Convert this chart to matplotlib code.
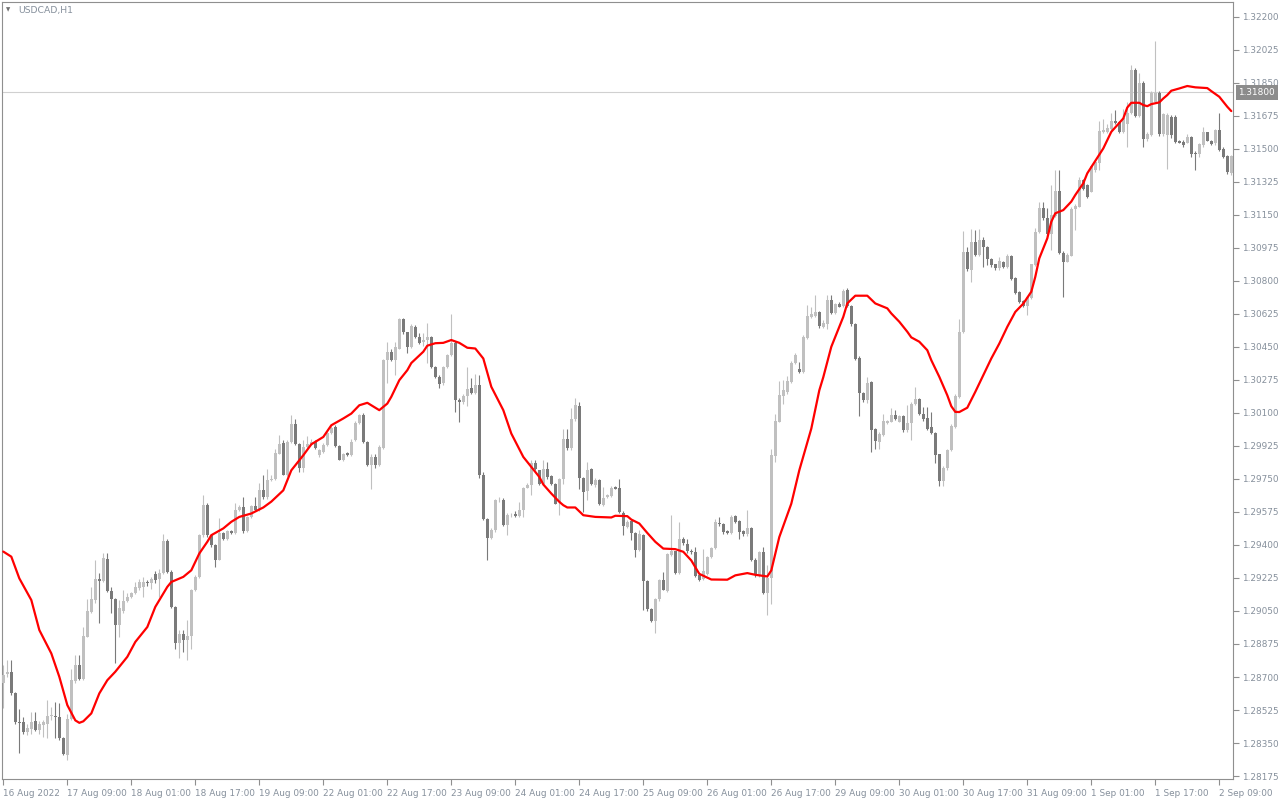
import numpy as np
import matplotlib
matplotlib.use("Agg")
import matplotlib.pyplot as plt

symbol = "USDCAD,H1"
bid = 1.31800

# hourly bars, index 0 = first bar on screen
opens = [
    1.28667, 1.28714, 1.28724, 1.28613, 1.28462, 1.28460, 1.28409, 1.28423, 1.28466, 1.28418,
    1.28444, 1.28453, 1.28492, 1.28494, 1.28490, 1.28374, 1.28285, 1.28475, 1.28680, 1.28763,
    1.28689, 1.28914, 1.29047, 1.29110, 1.29218, 1.29211, 1.29326, 1.29158, 1.29114, 1.28975,
    1.29052, 1.29105, 1.29124, 1.29144, 1.29172, 1.29175, 1.29204, 1.29196, 1.29245, 1.29219,
    1.29252, 1.29422, 1.29257, 1.29072, 1.28880, 1.28926, 1.28895, 1.28916, 1.29160, 1.29231,
    1.29452, 1.29611, 1.29452, 1.29399, 1.29323, 1.29461, 1.29431, 1.29473, 1.29464, 1.29588,
    1.29603, 1.29473, 1.29549, 1.29606, 1.29585, 1.29691, 1.29652, 1.29744, 1.29750, 1.29885,
    1.29941, 1.29773, 1.29947, 1.30044, 1.29933, 1.29809, 1.29921, 1.29938, 1.29947, 1.29876,
    1.29894, 1.29929, 1.29995, 1.30026, 1.29926, 1.29853, 1.29888, 1.29876, 1.29956, 1.30048,
    1.30088, 1.29947, 1.29823, 1.29867, 1.29823, 1.29915, 1.30380, 1.30425, 1.30380, 1.30442,
    1.30598, 1.30527, 1.30451, 1.30557, 1.30504, 1.30478, 1.30487, 1.30504, 1.30345, 1.30292,
    1.30257, 1.30345, 1.30407, 1.30472, 1.30168, 1.30160, 1.30191, 1.30230, 1.30207, 1.30248,
    1.29770, 1.29540, 1.29437, 1.29478, 1.29637, 1.29641, 1.29508, 1.29557, 1.29566, 1.29554,
    1.29584, 1.29702, 1.29717, 1.29835, 1.29796, 1.29726, 1.29803, 1.29765, 1.29726, 1.29629,
    1.29748, 1.29960, 1.29912, 1.30066, 1.30137, 1.29753, 1.29687, 1.29801, 1.29718, 1.29744,
    1.29611, 1.29656, 1.29660, 1.29707, 1.29703, 1.29572, 1.29496, 1.29526, 1.29464, 1.29372,
    1.29452, 1.29210, 1.29059, 1.28995, 1.29112, 1.29213, 1.29157, 1.29349, 1.29367, 1.29250,
    1.29431, 1.29407, 1.29368, 1.29362, 1.29239, 1.29221, 1.29247, 1.29336, 1.29384, 1.29516,
    1.29509, 1.29472, 1.29465, 1.29552, 1.29525, 1.29472, 1.29456, 1.29490, 1.29322, 1.29235,
    1.29362, 1.29145, 1.29224, 1.29872, 1.30053, 1.30189, 1.30212, 1.30265, 1.30363, 1.30331,
    1.30318, 1.30500, 1.30610, 1.30614, 1.30633, 1.30557, 1.30570, 1.30699, 1.30632, 1.30678,
    1.30667, 1.30752, 1.30667, 1.30570, 1.30394, 1.30207, 1.30168, 1.30262, 1.30014, 1.29947,
    1.29982, 1.30047, 1.30053, 1.30088, 1.30053, 1.30083, 1.30009, 1.30047, 1.30147, 1.30173,
    1.30097, 1.30071, 1.30026, 1.29996, 1.29881, 1.29738, 1.29810, 1.29902, 1.30026, 1.30185,
    1.30530, 1.30955, 1.30858, 1.31005, 1.30940, 1.31017, 1.30981, 1.30916, 1.30888, 1.30870,
    1.30900, 1.30875, 1.30932, 1.30815, 1.30741, 1.30693, 1.30666, 1.30710, 1.30884, 1.31061,
    1.31189, 1.31132, 1.31047, 1.31144, 1.31277, 1.30951, 1.30902, 1.30932, 1.31180, 1.31194,
    1.31336, 1.31309, 1.31274, 1.31389, 1.31424, 1.31590, 1.31590, 1.31604, 1.31650, 1.31644,
    1.31590, 1.31630, 1.31692, 1.31919, 1.31676, 1.31851, 1.31552, 1.31573, 1.31750, 1.31798,
    1.31579, 1.31573, 1.31671, 1.31671, 1.31542, 1.31536, 1.31533, 1.31565, 1.31480, 1.31471,
    1.31520, 1.31588, 1.31542, 1.31530, 1.31600, 1.31499, 1.31462, 1.31373,
]
highs = [
    1.28764, 1.28790, 1.28790, 1.28620, 1.28528, 1.28489, 1.28453, 1.28512, 1.28512, 1.28466,
    1.28471, 1.28577, 1.28542, 1.28565, 1.28560, 1.28380, 1.28506, 1.28740, 1.28816, 1.28816,
    1.28967, 1.29115, 1.29179, 1.29321, 1.29253, 1.29356, 1.29356, 1.29179, 1.29120, 1.29108,
    1.29161, 1.29144, 1.29150, 1.29206, 1.29220, 1.29231, 1.29213, 1.29231, 1.29262, 1.29275,
    1.29456, 1.29434, 1.29270, 1.29075, 1.28948, 1.28951, 1.29001, 1.29165, 1.29240, 1.29460,
    1.29665, 1.29625, 1.29460, 1.29405, 1.29541, 1.29470, 1.29480, 1.29482, 1.29624, 1.29610,
    1.29656, 1.29555, 1.29610, 1.29656, 1.29727, 1.29771, 1.29803, 1.29771, 1.29907, 1.29982,
    1.29956, 1.29956, 1.30088, 1.30070, 1.29940, 1.29956, 1.29977, 1.29960, 1.29955, 1.29910,
    1.29940, 1.30000, 1.30030, 1.30035, 1.29930, 1.29890, 1.29895, 1.29960, 1.30055, 1.30095,
    1.30100, 1.29950, 1.29880, 1.29880, 1.29930, 1.30385, 1.30478, 1.30440, 1.30478, 1.30605,
    1.30605, 1.30530, 1.30570, 1.30565, 1.30522, 1.30522, 1.30579, 1.30510, 1.30350, 1.30300,
    1.30350, 1.30415, 1.30625, 1.30480, 1.30180, 1.30200, 1.30345, 1.30283, 1.30306, 1.30301,
    1.29787, 1.29545, 1.29490, 1.29645, 1.29655, 1.29650, 1.29570, 1.29570, 1.29580, 1.29628,
    1.29710, 1.29730, 1.29853, 1.29853, 1.29800, 1.29849, 1.29842, 1.29770, 1.29730, 1.29755,
    1.30013, 1.30013, 1.30125, 1.30178, 1.30160, 1.29760, 1.29842, 1.29810, 1.29755, 1.29750,
    1.29709, 1.29670, 1.29712, 1.29712, 1.29748, 1.29580, 1.29530, 1.29530, 1.29470, 1.29479,
    1.29460, 1.29215, 1.29065, 1.29120, 1.29220, 1.29257, 1.29360, 1.29558, 1.29370, 1.29523,
    1.29440, 1.29433, 1.29380, 1.29389, 1.29245, 1.29380, 1.29340, 1.29390, 1.29540, 1.29548,
    1.29515, 1.29478, 1.29557, 1.29557, 1.29530, 1.29480, 1.29584, 1.29495, 1.29330, 1.29370,
    1.29389, 1.29292, 1.29911, 1.30093, 1.30270, 1.30274, 1.30295, 1.30375, 1.30420, 1.30371,
    1.30513, 1.30672, 1.30663, 1.30725, 1.30640, 1.30593, 1.30725, 1.30725, 1.30685, 1.30690,
    1.30755, 1.30765, 1.30672, 1.30575, 1.30400, 1.30210, 1.30292, 1.30270, 1.30020, 1.30000,
    1.30097, 1.30065, 1.30124, 1.30115, 1.30090, 1.30090, 1.30141, 1.30160, 1.30239, 1.30180,
    1.30132, 1.30132, 1.30106, 1.30000, 1.29885, 1.29820, 1.29910, 1.30040, 1.30200, 1.30600,
    1.31066, 1.30980, 1.31075, 1.31070, 1.31074, 1.31031, 1.30985, 1.30920, 1.30890, 1.30928,
    1.30905, 1.30945, 1.30940, 1.30820, 1.30745, 1.30700, 1.30720, 1.30890, 1.31079, 1.31220,
    1.31220, 1.31189, 1.31309, 1.31389, 1.31389, 1.30960, 1.30950, 1.31190, 1.31210, 1.31353,
    1.31340, 1.31315, 1.31415, 1.31440, 1.31650, 1.31657, 1.31635, 1.31689, 1.31706, 1.31650,
    1.31710, 1.31750, 1.31945, 1.31930, 1.31901, 1.31860, 1.31590, 1.31810, 1.32073, 1.31810,
    1.31690, 1.31690, 1.31680, 1.31680, 1.31550, 1.31550, 1.31580, 1.31570, 1.31490, 1.31530,
    1.31618, 1.31590, 1.31550, 1.31605, 1.31689, 1.31510, 1.31470, 1.31470,
]
lows = [
    1.28534, 1.28701, 1.28604, 1.28453, 1.28299, 1.28400, 1.28391, 1.28400, 1.28413, 1.28400,
    1.28383, 1.28374, 1.28471, 1.28374, 1.28365, 1.28285, 1.28262, 1.28470, 1.28670, 1.28685,
    1.28685, 1.28910, 1.29040, 1.29091, 1.28984, 1.29205, 1.29150, 1.29037, 1.28772, 1.28910,
    1.29037, 1.29100, 1.29120, 1.29140, 1.29160, 1.29125, 1.29185, 1.29169, 1.29200, 1.29125,
    1.29245, 1.29250, 1.29065, 1.28850, 1.28801, 1.28833, 1.28792, 1.28850, 1.29155, 1.29225,
    1.29445, 1.29445, 1.29390, 1.29284, 1.29320, 1.29425, 1.29425, 1.29460, 1.29460, 1.29580,
    1.29461, 1.29470, 1.29545, 1.29580, 1.29580, 1.29645, 1.29645, 1.29740, 1.29745, 1.29880,
    1.29770, 1.29765, 1.29940, 1.29930, 1.29787, 1.29787, 1.29915, 1.29930, 1.29910, 1.29867,
    1.29890, 1.29925, 1.29990, 1.29920, 1.29850, 1.29845, 1.29870, 1.29870, 1.29950, 1.30040,
    1.29940, 1.29820, 1.29699, 1.29810, 1.29820, 1.29910, 1.30257, 1.30375, 1.30301, 1.30440,
    1.30520, 1.30416, 1.30445, 1.30500, 1.30465, 1.30457, 1.30363, 1.30340, 1.30285, 1.30235,
    1.30250, 1.30340, 1.30400, 1.30106, 1.30053, 1.30150, 1.30136, 1.30200, 1.30200, 1.29756,
    1.29535, 1.29322, 1.29430, 1.29470, 1.29630, 1.29500, 1.29451, 1.29550, 1.29550, 1.29550,
    1.29549, 1.29700, 1.29664, 1.29800, 1.29720, 1.29720, 1.29750, 1.29720, 1.29615, 1.29558,
    1.29723, 1.29905, 1.29905, 1.30060, 1.29695, 1.29576, 1.29641, 1.29720, 1.29710, 1.29610,
    1.29605, 1.29650, 1.29655, 1.29695, 1.29570, 1.29452, 1.29490, 1.29426, 1.29337, 1.29370,
    1.29054, 1.29050, 1.28990, 1.28933, 1.29105, 1.29160, 1.29150, 1.29340, 1.29245, 1.29245,
    1.29400, 1.29360, 1.29350, 1.29230, 1.29210, 1.29215, 1.29240, 1.29330, 1.29380, 1.29500,
    1.29460, 1.29460, 1.29460, 1.29515, 1.29433, 1.29450, 1.29450, 1.29315, 1.29230, 1.29230,
    1.29140, 1.29030, 1.29085, 1.29840, 1.30050, 1.30150, 1.30200, 1.30260, 1.30360, 1.30310,
    1.30310, 1.30495, 1.30605, 1.30610, 1.30550, 1.30550, 1.30548, 1.30625, 1.30625, 1.30660,
    1.30660, 1.30660, 1.30560, 1.30380, 1.30083, 1.30160, 1.30155, 1.29894, 1.29911, 1.29911,
    1.29980, 1.30040, 1.30050, 1.30065, 1.30050, 1.30000, 1.30000, 1.29955, 1.30140, 1.30090,
    1.30060, 1.30010, 1.29990, 1.29835, 1.29711, 1.29711, 1.29800, 1.29900, 1.30020, 1.30180,
    1.30525, 1.30855, 1.30796, 1.30930, 1.30935, 1.30875, 1.30884, 1.30875, 1.30860, 1.30858,
    1.30870, 1.30870, 1.30805, 1.30730, 1.30685, 1.30660, 1.30619, 1.30705, 1.30880, 1.31055,
    1.31125, 1.31040, 1.30964, 1.31140, 1.30945, 1.30716, 1.30900, 1.30930, 1.31070, 1.31190,
    1.31280, 1.31240, 1.31270, 1.31380, 1.31390, 1.31585, 1.31585, 1.31600, 1.31635, 1.31585,
    1.31585, 1.31512, 1.31685, 1.31670, 1.31670, 1.31508, 1.31540, 1.31570, 1.31745, 1.31570,
    1.31570, 1.31396, 1.31560, 1.31530, 1.31530, 1.31510, 1.31530, 1.31460, 1.31391, 1.31460,
    1.31510, 1.31540, 1.31520, 1.31520, 1.31490, 1.31450, 1.31370, 1.31360,
]
closes = [
    1.28711, 1.28724, 1.28616, 1.28462, 1.28457, 1.28409, 1.28432, 1.28460, 1.28418, 1.28453,
    1.28462, 1.28492, 1.28494, 1.28490, 1.28374, 1.28291, 1.28475, 1.28683, 1.28763, 1.28689,
    1.28917, 1.29052, 1.29114, 1.29218, 1.29210, 1.29333, 1.29158, 1.29114, 1.28975, 1.29064,
    1.29105, 1.29126, 1.29144, 1.29179, 1.29206, 1.29204, 1.29201, 1.29219, 1.29213, 1.29252,
    1.29422, 1.29257, 1.29072, 1.28880, 1.28926, 1.28895, 1.28916, 1.29160, 1.29231, 1.29452,
    1.29611, 1.29452, 1.29399, 1.29323, 1.29461, 1.29431, 1.29473, 1.29464, 1.29588, 1.29603,
    1.29473, 1.29549, 1.29606, 1.29585, 1.29691, 1.29652, 1.29744, 1.29750, 1.29886, 1.29934,
    1.29773, 1.29947, 1.30044, 1.29933, 1.29809, 1.29921, 1.29938, 1.29947, 1.29915, 1.29902,
    1.29929, 1.29995, 1.30021, 1.29926, 1.29853, 1.29881, 1.29876, 1.29947, 1.30048, 1.30088,
    1.29947, 1.29823, 1.29867, 1.29823, 1.29921, 1.30380, 1.30425, 1.30380, 1.30451, 1.30598,
    1.30527, 1.30451, 1.30561, 1.30504, 1.30472, 1.30487, 1.30504, 1.30345, 1.30292, 1.30253,
    1.30345, 1.30407, 1.30472, 1.30168, 1.30160, 1.30191, 1.30225, 1.30207, 1.30248, 1.29770,
    1.29540, 1.29437, 1.29478, 1.29637, 1.29641, 1.29508, 1.29557, 1.29561, 1.29554, 1.29584,
    1.29702, 1.29717, 1.29835, 1.29805, 1.29726, 1.29805, 1.29758, 1.29726, 1.29620, 1.29748,
    1.29960, 1.29912, 1.30066, 1.30142, 1.29757, 1.29682, 1.29797, 1.29726, 1.29744, 1.29615,
    1.29647, 1.29665, 1.29703, 1.29698, 1.29576, 1.29500, 1.29523, 1.29464, 1.29372, 1.29456,
    1.29210, 1.29059, 1.28995, 1.29112, 1.29213, 1.29164, 1.29351, 1.29367, 1.29250, 1.29431,
    1.29408, 1.29368, 1.29362, 1.29235, 1.29217, 1.29260, 1.29336, 1.29384, 1.29522, 1.29509,
    1.29469, 1.29463, 1.29548, 1.29522, 1.29469, 1.29456, 1.29490, 1.29322, 1.29239, 1.29362,
    1.29145, 1.29226, 1.29876, 1.30056, 1.30194, 1.30224, 1.30269, 1.30366, 1.30407, 1.30318,
    1.30504, 1.30616, 1.30623, 1.30633, 1.30563, 1.30575, 1.30699, 1.30632, 1.30678, 1.30663,
    1.30748, 1.30667, 1.30570, 1.30385, 1.30207, 1.30168, 1.30260, 1.30009, 1.29950, 1.29991,
    1.30056, 1.30056, 1.30092, 1.30070, 1.30083, 1.30009, 1.30047, 1.30150, 1.30173, 1.30094,
    1.30067, 1.30014, 1.29994, 1.29879, 1.29738, 1.29810, 1.29902, 1.30030, 1.30189, 1.30530,
    1.30955, 1.30861, 1.31005, 1.30937, 1.31017, 1.30978, 1.30916, 1.30884, 1.30870, 1.30905,
    1.30875, 1.30932, 1.30812, 1.30737, 1.30690, 1.30666, 1.30716, 1.30888, 1.31061, 1.31189,
    1.31132, 1.31047, 1.31150, 1.31277, 1.30951, 1.30902, 1.30937, 1.31182, 1.31197, 1.31336,
    1.31286, 1.31247, 1.31410, 1.31433, 1.31597, 1.31600, 1.31609, 1.31650, 1.31639, 1.31590,
    1.31662, 1.31692, 1.31919, 1.31676, 1.31851, 1.31552, 1.31579, 1.31798, 1.31798, 1.31579,
    1.31685, 1.31680, 1.31573, 1.31538, 1.31533, 1.31520, 1.31565, 1.31471, 1.31471, 1.31526,
    1.31588, 1.31542, 1.31526, 1.31600, 1.31497, 1.31458, 1.31379, 1.31462,
]

# red moving average at these bar indices
ma_bars = [0, 2, 4, 7, 9, 12, 14, 16, 18, 19, 20, 22, 24, 26, 28, 31, 33, 36, 38, 41,
           42, 45, 47, 49, 51, 52, 55, 57, 59, 62, 65, 67, 70, 72, 75, 77, 80, 82, 85, 87,
           89, 91, 92, 94, 96, 97, 99, 101, 102, 105, 106, 108, 110, 112, 114, 116, 118, 120, 122, 125,
           127, 130, 132, 134, 135, 137, 139, 140, 141, 143, 145, 148, 152, 153, 156, 157, 159, 161, 163, 165,
           168, 170, 172, 174, 177, 181, 183, 186, 188, 191, 192, 194, 197, 199, 202, 204, 205, 207, 210, 211,
           213, 216, 218, 221, 222, 224, 226, 227, 229, 231, 232, 234, 236, 237, 238, 239, 241, 243, 245, 247,
           249, 251, 253, 255, 257, 258, 259, 261, 262, 263, 265, 267, 268, 270, 271, 273, 275, 277, 280, 281,
           282, 284, 285, 286, 287, 289, 290, 291, 292, 294, 296, 298, 301, 302, 304, 306, 307]
ma_vals = [1.29365, 1.29338, 1.29223, 1.29108, 1.28949, 1.28825, 1.28701, 1.28551, 1.28470, 1.28457,
           1.28465, 1.28507, 1.28613, 1.28683, 1.28728, 1.28807, 1.28886, 1.28965, 1.29072, 1.29178,
           1.29204, 1.29231, 1.29266, 1.29355, 1.29417, 1.29452, 1.29488, 1.29523, 1.29549, 1.29567,
           1.29599, 1.29630, 1.29690, 1.29796, 1.29876, 1.29934, 1.29973, 1.30035, 1.30071, 1.30097,
           1.30141, 1.30154, 1.30141, 1.30115, 1.30150, 1.30186, 1.30274, 1.30327, 1.30365, 1.30425,
           1.30457, 1.30470, 1.30472, 1.30487, 1.30472, 1.30446, 1.30442, 1.30389, 1.30239, 1.30115,
           1.29991, 1.29867, 1.29814, 1.29761, 1.29721, 1.29673, 1.29629, 1.29611, 1.29599, 1.29599,
           1.29558, 1.29549, 1.29546, 1.29555, 1.29553, 1.29535, 1.29514, 1.29464, 1.29417, 1.29381,
           1.29378, 1.29364, 1.29318, 1.29247, 1.29217, 1.29216, 1.29239, 1.29251, 1.29242, 1.29233,
           1.29265, 1.29442, 1.29619, 1.29796, 1.30017, 1.30220, 1.30290, 1.30451, 1.30610, 1.30681,
           1.30722, 1.30722, 1.30681, 1.30655, 1.30628, 1.30584, 1.30531, 1.30501, 1.30478, 1.30433,
           1.30380, 1.30292, 1.30194, 1.30136, 1.30106, 1.30105, 1.30128, 1.30212, 1.30300, 1.30389,
           1.30468, 1.30557, 1.30636, 1.30680, 1.30743, 1.30822, 1.30920, 1.31026, 1.31114, 1.31159,
           1.31176, 1.31221, 1.31256, 1.31318, 1.31371, 1.31437, 1.31503, 1.31591, 1.31662, 1.31720,
           1.31745, 1.31745, 1.31733, 1.31727, 1.31738, 1.31747, 1.31768, 1.31786, 1.31809, 1.31821,
           1.31834, 1.31827, 1.31823, 1.31807, 1.31777, 1.31724, 1.31701]

xtick_labels = ['16 Aug 2022', '17 Aug 09:00', '18 Aug 01:00', '18 Aug 17:00', '19 Aug 09:00',
                '22 Aug 01:00', '22 Aug 17:00', '23 Aug 09:00', '24 Aug 01:00', '24 Aug 17:00',
                '25 Aug 09:00', '26 Aug 01:00', '26 Aug 17:00', '29 Aug 09:00', '30 Aug 01:00',
                '30 Aug 17:00', '31 Aug 09:00', '1 Sep 01:00', '1 Sep 17:00', '2 Sep 09:00']

up_color = '#c0c0c0'
down_color = '#7a7a7a'
frame_color = '#8f8f8f'
text_color = '#86909c'
fs = 6.4

plt.rcParams['font.family'] = ['DejaVu Sans']

o = np.array(opens)
h = np.array(highs)
l = np.array(lows)
c = np.array(closes)
x = np.arange(len(c))
colors = np.where(c >= o, up_color, down_color)

fig = plt.figure(figsize=(12.8, 8), dpi=100)
ax = fig.add_axes([2 / 1280, 21 / 800, 1231 / 1280, 777 / 800])

ax.axhline(bid, color='#d0d0d0', lw=0.8, zorder=0)

ax.vlines(x, l, h, colors=colors, lw=0.8, zorder=2)
body = np.maximum(np.abs(c - o), 0.00004)
ax.bar(x, body, bottom=np.minimum(o, c), width=0.72, color=colors, linewidth=0, zorder=3)

ax.plot(ma_bars, ma_vals, color='#ff0000', lw=1.6, zorder=4,
        solid_joinstyle='round', solid_capstyle='round')

ax.set_xlim(-0.33, 307.43)
ax.set_ylim(1.281591, 1.322795)

for s in ax.spines.values():
    s.set_color(frame_color)
    s.set_linewidth(0.8)

ax.yaxis.tick_right()
yt = np.arange(1.28175, 1.32201, 0.00175)
ax.set_yticks(yt)
ax.set_yticklabels(['%.5f' % v for v in yt])
ax.tick_params(axis='y', which='both', direction='out', length=4, width=0.8,
               color=frame_color, labelcolor=text_color, labelsize=fs, pad=2.5)

ax.set_xticks(range(0, 16 * len(xtick_labels), 16))
ax.set_xticklabels(xtick_labels, ha='left')
ax.tick_params(axis='x', which='both', direction='out', length=4, width=0.8,
               color=frame_color, labelcolor=text_color, labelsize=fs, pad=3)

# bid price tag on the right scale
ax.annotate('%.5f' % bid, xy=(1, bid), xycoords=ax.get_yaxis_transform(),
            xytext=(4, 0), textcoords='offset points', va='center', ha='left',
            fontsize=fs, color='white',
            bbox=dict(boxstyle='square,pad=0.3', fc='#8c8c8c', ec='none'),
            annotation_clip=False)

fig.text(6 / 1280, 1 - 10 / 800, '\u25bc', fontsize=4, color='#707070', va='center', ha='left')
fig.text(18 / 1280, 1 - 10 / 800, symbol, fontsize=6.7, color=text_color, va='center', ha='left')

fig.savefig('out.png', dpi=100)
